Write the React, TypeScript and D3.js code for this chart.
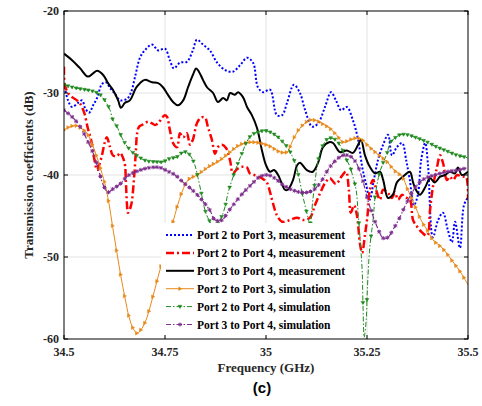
import React, { useEffect, useRef } from "react";
import * as d3 from "d3";

type Pt = [number, number];

const xTicks = [34.5, 34.75, 35, 35.25, 35.5];
const xTickLabels = ["34.5", "34.75", "35", "35.25", "35.5"];
const yTicks = [-60, -50, -40, -30, -20];
const yTickLabels = ["-60", "-50", "-40", "-30", "-20"];

const legendLabels = [
  "Port 2 to Port 3, measurement",
  "Port 2 to Port 4, measurement",
  "Port 3 to Port 4, measurement",
  "Port 2 to Port 3, simulation",
  "Port 2 to Port 4, simulation",
  "Port 3 to Port 4, simulation",
];

const p23Meas: Pt[] = [
  [34.5, -28.8], [34.51, -30.9], [34.52, -31.7], [34.535, -31.2], [34.545, -30.9], [34.552, -31.8], [34.562, -32.4],
  [34.572, -31.5], [34.582, -30.6], [34.594, -28.9], [34.604, -28.7], [34.614, -29.4], [34.626, -30.1], [34.639, -30.9],
  [34.656, -30.7], [34.666, -29.9], [34.676, -28.0], [34.688, -25.7], [34.7, -24.8], [34.718, -24.1], [34.733, -24.8],
  [34.75, -24.6], [34.762, -26.0], [34.772, -27.0], [34.787, -26.3], [34.804, -26.2], [34.819, -24.8], [34.829, -23.5],
  [34.844, -24.1], [34.861, -24.8], [34.879, -26.3], [34.899, -27.2], [34.918, -27.4], [34.936, -26.6], [34.953, -25.7],
  [34.968, -26.3], [34.98, -29.3], [34.993, -29.9], [35.01, -29.6], [35.027, -32.7], [35.04, -32.7], [35.052, -31.2],
  [35.069, -29.0], [35.084, -30.0], [35.097, -32.1], [35.114, -34.1], [35.129, -33.7], [35.146, -31.7], [35.161, -29.9],
  [35.173, -30.9], [35.186, -32.1], [35.2, -31.7], [35.215, -33.3], [35.228, -35.7], [35.238, -39.0], [35.248, -41.2],
  [35.257, -43.0], [35.267, -40.6], [35.277, -38.2], [35.29, -36.3], [35.302, -35.1], [35.312, -37.6], [35.324, -36.6],
  [35.337, -36.1], [35.347, -38.2], [35.356, -40.6], [35.366, -43.7], [35.376, -42.4], [35.384, -38.2], [35.394, -36.1],
  [35.401, -38.8], [35.413, -47.6], [35.426, -45.5], [35.438, -44.6], [35.45, -46.7], [35.46, -48.2], [35.468, -45.7],
  [35.48, -48.9], [35.49, -43.7], [35.5, -42.7],
];

const p24Meas: Pt[] = [
  [34.5, -26.8], [34.502, -29.0], [34.51, -30.0], [34.52, -30.5], [34.532, -30.9], [34.54, -31.3], [34.55, -32.4],
  [34.559, -34.3], [34.567, -35.7], [34.574, -37.8], [34.582, -39.4], [34.587, -38.8], [34.594, -37.6], [34.601, -36.0],
  [34.606, -35.4], [34.614, -36.6], [34.621, -37.6], [34.631, -37.7], [34.639, -37.3], [34.646, -37.9], [34.651, -38.8],
  [34.653, -40.6], [34.656, -43.7], [34.658, -44.6], [34.666, -43.7], [34.673, -40.6], [34.678, -37.0], [34.681, -34.9],
  [34.686, -34.1], [34.693, -33.9], [34.7, -33.7], [34.708, -33.5], [34.718, -33.7], [34.725, -33.9], [34.733, -33.7],
  [34.743, -33.0], [34.75, -32.7], [34.755, -32.9], [34.762, -34.5], [34.77, -36.1], [34.78, -36.6], [34.787, -34.9],
  [34.795, -35.4], [34.804, -34.9], [34.812, -36.3], [34.819, -35.7], [34.829, -33.7], [34.839, -33.0], [34.849, -33.0],
  [34.856, -34.1], [34.866, -35.7], [34.874, -37.4], [34.881, -36.6], [34.891, -36.3], [34.901, -36.7], [34.911, -38.2],
  [34.918, -39.8], [34.928, -39.3], [34.941, -39.0], [34.953, -39.1], [34.96, -39.8], [34.978, -40.1], [34.99, -40.4],
  [35.002, -40.9], [35.01, -42.1], [35.017, -43.4], [35.027, -44.9], [35.04, -45.7], [35.059, -45.5], [35.077, -45.2],
  [35.092, -45.5], [35.109, -45.2], [35.121, -43.7], [35.134, -42.2], [35.146, -41.0], [35.158, -40.4], [35.173, -41.1],
  [35.188, -40.1], [35.198, -39.6], [35.205, -41.8], [35.21, -44.6], [35.218, -43.7], [35.225, -44.9], [35.233, -48.5],
  [35.238, -49.5], [35.245, -47.3], [35.252, -44.6], [35.257, -41.8], [35.265, -40.6], [35.275, -42.2], [35.282, -43.0],
  [35.29, -41.8], [35.302, -42.2], [35.312, -42.8], [35.319, -42.1], [35.327, -43.0], [35.337, -42.4], [35.344, -42.7],
  [35.356, -43.0], [35.364, -45.5], [35.374, -46.3], [35.386, -47.0], [35.399, -47.4], [35.406, -44.3], [35.413, -41.5],
  [35.423, -39.1], [35.431, -37.6], [35.438, -38.5], [35.448, -40.6], [35.455, -40.2], [35.463, -40.6], [35.473, -40.0],
  [35.485, -40.2], [35.495, -40.2], [35.5, -43.0],
];

const p34Meas: Pt[] = [
  [34.5, -25.2], [34.52, -26.0], [34.54, -27.0], [34.559, -28.0], [34.572, -27.6], [34.582, -27.3], [34.597, -27.8],
  [34.609, -28.8], [34.621, -29.6], [34.634, -30.9], [34.641, -31.8], [34.651, -31.2], [34.663, -30.9], [34.678, -29.4],
  [34.688, -28.8], [34.7, -28.4], [34.718, -28.7], [34.733, -28.8], [34.745, -29.3], [34.757, -30.2], [34.77, -31.1],
  [34.782, -31.5], [34.795, -30.9], [34.807, -29.3], [34.819, -27.8], [34.827, -27.0], [34.834, -27.4], [34.844, -28.4],
  [34.854, -29.3], [34.869, -30.0], [34.881, -31.1], [34.894, -30.6], [34.903, -30.9], [34.911, -30.0], [34.923, -30.2],
  [34.931, -29.9], [34.943, -30.5], [34.953, -31.7], [34.965, -32.7], [34.978, -34.3], [34.99, -37.0], [35.0, -38.8],
  [35.01, -39.6], [35.02, -39.4], [35.03, -40.0], [35.047, -41.8], [35.054, -41.8], [35.067, -40.6], [35.077, -38.8],
  [35.084, -38.5], [35.101, -39.4], [35.116, -39.6], [35.129, -38.5], [35.141, -36.6], [35.156, -36.0], [35.166, -36.1],
  [35.183, -37.2], [35.2, -37.0], [35.215, -37.3], [35.228, -36.3], [35.235, -35.7], [35.245, -37.6], [35.257, -39.0],
  [35.27, -39.8], [35.282, -39.6], [35.29, -40.6], [35.302, -42.8], [35.314, -42.4], [35.324, -40.9], [35.339, -40.2],
  [35.356, -39.6], [35.364, -40.9], [35.371, -41.8], [35.381, -42.4], [35.394, -41.5], [35.406, -40.4], [35.418, -40.9],
  [35.431, -40.2], [35.443, -40.0], [35.455, -39.6], [35.468, -39.8], [35.475, -39.1], [35.485, -40.0], [35.5, -39.6],
];

const p23Sim: Pt[] = [
  [34.5, -34.5], [34.515, -34.1], [34.532, -34.0], [34.545, -34.4], [34.557, -34.9], [34.572, -36.5], [34.584, -38.2],
  [34.594, -39.8], [34.601, -41.0], [34.611, -43.4], [34.621, -46.5], [34.631, -49.5], [34.641, -52.4], [34.651, -55.0],
  [34.661, -57.3], [34.671, -58.7], [34.681, -59.3], [34.693, -58.7], [34.703, -57.7], [34.713, -56.1], [34.723, -54.3],
  [34.733, -52.4], [34.743, -50.6], [34.752, -48.9], [34.762, -47.1], [34.77, -45.7], [34.78, -43.9], [34.792, -42.1],
  [34.807, -40.6], [34.829, -40.0], [34.861, -38.9], [34.886, -38.2], [34.911, -37.2], [34.936, -36.3], [34.96, -36.0],
  [34.985, -36.1], [35.01, -36.5], [35.035, -37.2], [35.052, -37.2], [35.067, -35.7], [35.084, -34.3], [35.109, -33.3],
  [35.126, -33.4], [35.141, -33.8], [35.158, -34.3], [35.176, -35.2], [35.191, -36.0], [35.208, -35.7], [35.225, -35.5],
  [35.238, -35.7], [35.25, -36.3], [35.275, -37.4], [35.3, -38.4], [35.319, -39.5], [35.337, -40.2], [35.351, -41.8],
  [35.369, -43.8], [35.386, -45.7], [35.399, -46.7], [35.413, -47.9], [35.438, -49.0], [35.463, -50.6], [35.485, -52.1],
  [35.5, -53.4],
];

const p24Sim: Pt[] = [
  [34.5, -29.0], [34.52, -29.3], [34.54, -29.5], [34.572, -29.8], [34.589, -30.2], [34.601, -30.9], [34.614, -32.1],
  [34.621, -33.3], [34.631, -34.1], [34.644, -35.5], [34.656, -36.5], [34.671, -37.3], [34.688, -37.9], [34.705, -38.3],
  [34.725, -38.4], [34.745, -38.4], [34.762, -38.0], [34.78, -37.8], [34.792, -37.3], [34.802, -37.2], [34.812, -37.6],
  [34.824, -38.8], [34.832, -40.4], [34.842, -42.7], [34.849, -44.3], [34.859, -45.5], [34.869, -46.2], [34.879, -46.0],
  [34.891, -45.0], [34.899, -43.8], [34.906, -42.2], [34.916, -40.6], [34.928, -38.9], [34.941, -37.3], [34.953, -35.9],
  [34.965, -35.1], [34.98, -34.8], [34.998, -34.6], [35.015, -34.9], [35.03, -35.4], [35.042, -36.0], [35.054, -36.7],
  [35.064, -37.6], [35.074, -38.8], [35.082, -40.4], [35.089, -42.1], [35.097, -43.8], [35.104, -45.2], [35.109, -46.0],
  [35.116, -43.0], [35.126, -39.1], [35.134, -37.3], [35.144, -36.1], [35.153, -35.6], [35.163, -35.5], [35.176, -35.9],
  [35.188, -36.8], [35.2, -38.2], [35.208, -39.0], [35.215, -40.2], [35.223, -41.8], [35.228, -44.6], [35.233, -47.9],
  [35.238, -51.6], [35.24, -55.6], [35.243, -59.8], [35.248, -57.7], [35.25, -55.2], [35.252, -52.8], [35.257, -48.8],
  [35.265, -45.5], [35.27, -42.7], [35.277, -40.6], [35.282, -39.6], [35.29, -38.5], [35.3, -37.3], [35.307, -36.1],
  [35.319, -35.5], [35.332, -35.1], [35.349, -35.1], [35.374, -35.5], [35.399, -36.0], [35.423, -36.6], [35.448, -37.1],
  [35.473, -37.6], [35.5, -37.9],
];

const p34Sim: Pt[] = [
  [34.5, -32.1], [34.52, -32.9], [34.54, -34.1], [34.557, -35.7], [34.572, -37.3], [34.584, -39.1], [34.597, -41.2],
  [34.609, -42.1], [34.621, -41.7], [34.639, -41.1], [34.658, -40.1], [34.683, -39.5], [34.713, -39.1], [34.738, -39.1],
  [34.755, -39.5], [34.775, -40.0], [34.795, -40.9], [34.817, -41.8], [34.837, -42.8], [34.861, -44.3], [34.874, -45.5],
  [34.891, -45.5], [34.906, -44.5], [34.923, -43.4], [34.943, -42.2], [34.965, -41.1], [34.985, -40.2], [35.005, -40.0],
  [35.022, -40.4], [35.042, -41.2], [35.064, -41.8], [35.084, -42.1], [35.104, -42.1], [35.121, -41.7], [35.139, -40.6],
  [35.153, -39.4], [35.171, -38.3], [35.191, -37.6], [35.208, -37.7], [35.223, -38.5], [35.238, -40.4], [35.25, -42.7],
  [35.262, -44.6], [35.275, -46.3], [35.29, -47.7], [35.302, -47.6], [35.314, -46.7], [35.332, -45.1], [35.344, -43.8],
  [35.361, -42.2], [35.376, -41.1], [35.394, -40.4], [35.418, -40.0], [35.448, -39.6], [35.475, -39.4], [35.5, -39.1],
];

const W = 482;
const H = 406;
const PL = 64, PR = 468, PT = 11, PB = 339;

type Style = {
  data: Pt[];
  color: string;
  width: number;
  dash?: string;
  marker?: "tri-right" | "tri-down" | "star";
};

const styles: Style[] = [
  { data: p23Meas, color: "#0000ff", width: 2, dash: "2,2" },
  { data: p24Meas, color: "#ff0000", width: 2.5, dash: "8,3,2,3" },
  { data: p34Meas, color: "#000000", width: 2 },
  { data: p23Sim, color: "#e8891a", width: 1, marker: "tri-right" },
  { data: p24Sim, color: "#1f8a1f", width: 1, dash: "5,2,1.5,2", marker: "tri-down" },
  { data: p34Sim, color: "#7e2f8e", width: 1.2, dash: "5,2,1.5,2", marker: "star" },
];

const serif = "'Liberation Serif', 'Times New Roman', serif";

function markerPath(kind: string, cx: number, cy: number, s: number): string {
  if (kind === "tri-right") {
    return `M${cx - s * 0.7},${cy - s} L${cx + s},${cy} L${cx - s * 0.7},${cy + s} Z`;
  }
  if (kind === "tri-down") {
    return `M${cx - s},${cy - s * 0.7} L${cx + s},${cy - s * 0.7} L${cx},${cy + s} Z`;
  }
  // star: plus + x
  const d = s * 0.75;
  return `M${cx - s},${cy} L${cx + s},${cy} M${cx},${cy - s} L${cx},${cy + s} M${cx - d},${cy - d} L${cx + d},${cy + d} M${cx - d},${cy + d} L${cx + d},${cy - d}`;
}

export default function App() {
  const x = d3.scaleLinear().domain([34.5, 35.5]).range([PL, PR]);
  const y = d3.scaleLinear().domain([-60, -20]).range([PB, PT]);
  const line = d3
    .line<Pt>()
    .x((d) => x(d[0]))
    .y((d) => y(d[1]))
    .curve(d3.curveCatmullRom.alpha(0.5));

  const pathRefs = useRef<(SVGPathElement | null)[]>([]);
  const markerGroup = useRef<SVGGElement | null>(null);

  useEffect(() => {
    const g = d3.select(markerGroup.current);
    g.selectAll("*").remove();
    const stepPx = x(34.51) - x(34.5);
    styles.forEach((s, i) => {
      if (!s.marker) return;
      const p = pathRefs.current[i];
      if (!p) return;
      const L = p.getTotalLength();
      let nextX = PL;
      for (let l = 0; l <= L; l += 0.25) {
        const pt = p.getPointAtLength(l);
        if (pt.x >= nextX - 0.01) {
          const kind = s.marker;
          const size = kind === "star" ? 2 : 1.8;
          g.append("path")
            .attr("d", markerPath(kind, pt.x, pt.y, size))
            .attr("fill", kind === "star" ? "none" : s.color)
            .attr("stroke", s.color)
            .attr("stroke-width", kind === "star" ? 1 : 0.6);
          nextX += stepPx;
        }
      }
    });
  }, []);

  const legendX = 161;
  const legendY = 223;
  const legendW = 189;
  const legendH = 113;
  const rowY0 = 235;
  const rowDy = 17.9;

  return (
    <svg
      width={W}
      height={H}
      style={{ position: "absolute", left: 0, top: 0, background: "#fff" }}
    >
      <defs>
        <clipPath id="plotClip">
          <rect x={PL} y={PT} width={PR - PL} height={PB - PT} />
        </clipPath>
      </defs>
      <rect x={0} y={0} width={W} height={H} fill="#fff" />
      {/* grid */}
      {xTicks.slice(1, -1).map((t) => (
        <line key={"gx" + t} x1={x(t)} x2={x(t)} y1={PT} y2={PB} stroke="#e3e3e3" strokeWidth={1} />
      ))}
      {yTicks.slice(1, -1).map((t) => (
        <line key={"gy" + t} x1={PL} x2={PR} y1={y(t)} y2={y(t)} stroke="#e3e3e3" strokeWidth={1} />
      ))}
      {/* series */}
      <g clipPath="url(#plotClip)">
        {styles.map((s, i) => (
          <path
            key={i}
            ref={(el) => {
              pathRefs.current[i] = el;
            }}
            d={line(s.data) || ""}
            fill="none"
            stroke={s.color}
            strokeWidth={s.width}
            strokeDasharray={s.dash}
            strokeLinejoin="round"
          />
        ))}
        <g ref={markerGroup} />
      </g>
      {/* legend */}
      <rect x={legendX} y={legendY} width={legendW} height={legendH} fill="#fff" />
      {legendLabels.map((lab, i) => {
        const s = styles[i];
        const cy = rowY0 + i * rowDy;
        return (
          <g key={lab}>
            <line
              x1={166}
              x2={194}
              y1={cy}
              y2={cy}
              stroke={s.color}
              strokeWidth={s.width}
              strokeDasharray={s.dash}
            />
            {s.marker && (
              <path
                d={markerPath(s.marker, 180, cy, s.marker === "star" ? 2 : 1.8)}
                fill={s.marker === "star" ? "none" : s.color}
                stroke={s.color}
                strokeWidth={s.marker === "star" ? 1 : 0.6}
              />
            )}
            <text
              x={197}
              y={cy}
              dy="0.35em"
              fontFamily={serif}
              fontWeight="bold"
              fontSize={11.5}
              fill="#000"
            >
              {lab}
            </text>
          </g>
        );
      })}
      {/* axes box */}
      <rect x={PL} y={PT} width={PR - PL} height={PB - PT} fill="none" stroke="#000" strokeWidth={1} />
      {xTicks.map((t) => (
        <g key={"xt" + t}>
          <line x1={x(t)} x2={x(t)} y1={PB} y2={PB - 4} stroke="#000" />
          <line x1={x(t)} x2={x(t)} y1={PT} y2={PT + 4} stroke="#000" />
        </g>
      ))}
      {yTicks.map((t) => (
        <g key={"yt" + t}>
          <line x1={PL} x2={PL + 4} y1={y(t)} y2={y(t)} stroke="#000" />
          <line x1={PR} x2={PR - 4} y1={y(t)} y2={y(t)} stroke="#000" />
        </g>
      ))}
      {xTicks.map((t, i) => (
        <text
          key={"xl" + t}
          x={x(t)}
          y={352}
          dy="0.35em"
          textAnchor="middle"
          fontFamily={serif}
          fontWeight="bold"
          fontSize={12}
          fill="#262626"
        >
          {xTickLabels[i]}
        </text>
      ))}
      {yTicks.map((t, i) => (
        <text
          key={"yl" + t}
          x={59}
          y={y(t)}
          dy="0.35em"
          textAnchor="end"
          fontFamily={serif}
          fontWeight="bold"
          fontSize={12}
          fill="#262626"
        >
          {yTickLabels[i]}
        </text>
      ))}
      <text
        x={266}
        y={367}
        dy="0.35em"
        textAnchor="middle"
        fontFamily={serif}
        fontWeight="bold"
        fontSize={13}
        fill="#262626"
      >
        Frequency (GHz)
      </text>
      <text
        transform={`translate(28,${(PT + PB) / 2}) rotate(-90)`}
        textAnchor="middle"
        dy="0.35em"
        fontFamily={serif}
        fontWeight="bold"
        fontSize={13}
        fill="#262626"
      >
        Transmission coefficients (dB)
      </text>
      <text
        x={262}
        y={388}
        dy="0.35em"
        textAnchor="middle"
        fontFamily="'Liberation Sans', Arial, sans-serif"
        fontWeight="bold"
        fontSize={15}
        fill="#000"
      >
        (c)
      </text>
    </svg>
  );
}
